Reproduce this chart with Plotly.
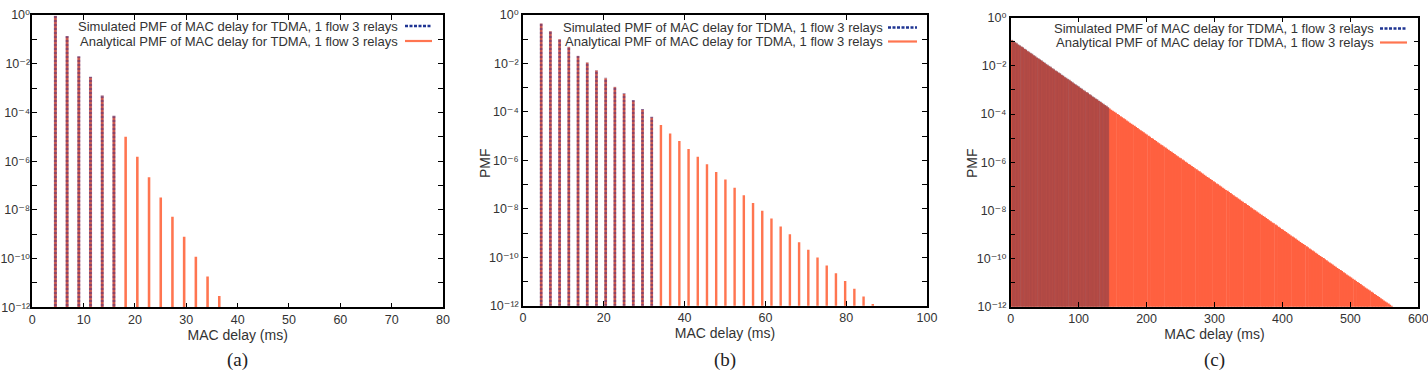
import plotly.graph_objects as go

# ---------------- data ----------------
# PMF values are stored as log10(PMF); bars are spaced one TDMA slot apart.
SLOT_MS = 2.28

# (a)
A_FIRST_MS = 4.5
A_SIM_LOG = [-0.03, -0.86, -1.69, -2.53, -3.28, -4.13]
A_ANA_LOG = [-0.04, -0.88, -1.71, -2.56, -3.35, -4.17, -5.00, -5.82, -6.66,
             -7.49, -8.28, -9.10, -9.92, -10.74, -11.54]

# (b)
B_FIRST_MS = 4.5
B_SIM_LOG = [-0.34, -0.66, -0.99, -1.31, -1.68, -1.95, -2.27, -2.59, -2.96,
             -3.23, -3.51, -3.88, -4.20]
B_ANA_LOG = [-0.36, -0.68, -1.01, -1.33, -1.70, -1.97, -2.30, -2.62, -2.98,
             -3.26, -3.54, -3.91, -4.23, -4.54, -4.89, -5.20, -5.53, -5.85,
             -6.16, -6.48, -6.79, -7.13, -7.44, -7.76, -8.08, -8.40, -8.73,
             -9.05, -9.38, -9.69, -10.01, -10.34, -10.66, -10.98, -11.30,
             -11.62, -11.93]

# (c)  (impulses too dense to separate; values follow the visible edge)
C_FIRST_MS = 2.3
C_SIM_LOG = [-0.92, -0.96, -1.01, -1.04, -1.10, -1.13, -1.19, -1.22, -1.28, -1.31,
             -1.37, -1.40, -1.46, -1.49, -1.55, -1.58, -1.64, -1.67, -1.73, -1.76,
             -1.82, -1.85, -1.91, -1.94, -2.00, -2.03, -2.09, -2.12, -2.18, -2.21,
             -2.27, -2.30, -2.36, -2.39, -2.45, -2.48, -2.54, -2.57, -2.63, -2.66,
             -2.72, -2.75, -2.81, -2.84, -2.90, -2.93, -2.99, -3.02, -3.08, -3.11,
             -3.17, -3.20, -3.26, -3.29, -3.35, -3.38, -3.44, -3.47, -3.53, -3.56,
             -3.62, -3.65, -3.71]
C_ANA_LOG = [-0.94, -0.98, -1.03, -1.07, -1.12, -1.16, -1.21, -1.25, -1.30, -1.34,
             -1.39, -1.43, -1.48, -1.52, -1.57, -1.61, -1.66, -1.70, -1.75, -1.79,
             -1.84, -1.88, -1.93, -1.97, -2.02, -2.06, -2.11, -2.15, -2.20, -2.24,
             -2.29, -2.33, -2.38, -2.42, -2.47, -2.51, -2.56, -2.60, -2.65, -2.69,
             -2.74, -2.78, -2.83, -2.87, -2.92, -2.96, -3.01, -3.05, -3.10, -3.14,
             -3.19, -3.23, -3.28, -3.32, -3.37, -3.41, -3.46, -3.50, -3.55, -3.59,
             -3.64, -3.68, -3.73, -3.77, -3.82, -3.86, -3.91, -3.95, -4.00, -4.04,
             -4.09, -4.13, -4.18, -4.22, -4.27, -4.31, -4.36, -4.40, -4.45, -4.49,
             -4.54, -4.58, -4.63, -4.67, -4.72, -4.76, -4.81, -4.85, -4.90, -4.94,
             -4.99, -5.03, -5.08, -5.12, -5.17, -5.21, -5.26, -5.30, -5.35, -5.39,
             -5.44, -5.48, -5.53, -5.57, -5.62, -5.66, -5.71, -5.75, -5.80, -5.84,
             -5.89, -5.93, -5.98, -6.02, -6.07, -6.11, -6.16, -6.20, -6.25, -6.29,
             -6.34, -6.38, -6.43, -6.47, -6.52, -6.56, -6.61, -6.65, -6.70, -6.74,
             -6.79, -6.83, -6.88, -6.92, -6.97, -7.01, -7.06, -7.10, -7.15, -7.19,
             -7.24, -7.28, -7.33, -7.37, -7.42, -7.46, -7.51, -7.55, -7.60, -7.64,
             -7.69, -7.73, -7.78, -7.82, -7.87, -7.91, -7.96, -8.00, -8.05, -8.09,
             -8.14, -8.18, -8.23, -8.27, -8.32, -8.36, -8.41, -8.45, -8.50, -8.54,
             -8.59, -8.63, -8.68, -8.72, -8.77, -8.81, -8.86, -8.90, -8.95, -8.99,
             -9.04, -9.08, -9.13, -9.17, -9.22, -9.26, -9.31, -9.35, -9.40, -9.44,
             -9.49, -9.53, -9.58, -9.62, -9.67, -9.71, -9.76, -9.80, -9.85, -9.89,
             -9.94, -9.98, -10.03, -10.07, -10.12, -10.16, -10.21, -10.25, -10.30, -10.34,
             -10.39, -10.43, -10.48, -10.52, -10.57, -10.61, -10.66, -10.70, -10.75, -10.79,
             -10.84, -10.88, -10.93, -10.97, -11.02, -11.06, -11.11, -11.15, -11.20, -11.24,
             -11.29, -11.33, -11.38, -11.42, -11.47, -11.51, -11.56, -11.60, -11.65, -11.69,
             -11.74, -11.78, -11.83, -11.87, -11.92, -11.96]

SIM_NAME = "Simulated PMF of MAC delay for TDMA, 1 flow 3 relays"
ANA_NAME = "Analytical PMF of MAC delay for TDMA, 1 flow 3 relays"
X_TITLE = "MAC delay (ms)"
Y_TITLE = "PMF"
CAPTIONS = ["(a)", "(b)", "(c)"]
X_RANGES = [[0, 80], [0, 100], [0, 600]]
X_DTICKS = [10, 20, 100]
Y_MAJOR_EXP = [0, -2, -4, -6, -8, -10, -12]
Y_TICK_LABELS = ["10⁰", "10⁻²", "10⁻⁴", "10⁻⁶", "10⁻⁸", "10⁻¹⁰", "10⁻¹²"]
Y_MINOR_EXP = [-1, -3, -5, -7, -9, -11]

# ---------------- styling ----------------
W, H = 1428, 374
SANS = "Liberation Sans, Arial, Helvetica, DejaVu Sans, sans-serif"
SERIF = "Liberation Serif, Times New Roman, serif"
ORANGE = "#ff7550"
ORANGE_DENSE = "#ff6040"
BLUE = "#1f3593"


def px_x(p):
    return p / W


def px_y(p):
    return 1 - p / H


# panel frames in pixels: (left, right, top, bottom)
FRAMES = [(32.3, 443.0, 15.0, 307.3), (523.0, 927.0, 15.0, 305.7), (1010.7, 1418.3, 17.7, 306.7)]
# legend geometry per panel: text right edge, sample left, sample right, row1 y, row2 y
LEG_ROWS = [(400, 405, 432, 26, 41), (885, 888, 917, 27.5, 41.5), (1376, 1380, 1407, 28.5, 42.5)]
Y_LABEL_STANDOFF = [-2, 0, 0]


def logs_to_pmf(vals):
    return [10 ** v for v in vals]


fig = go.Figure()

panels = [
    (A_FIRST_MS, A_SIM_LOG, A_ANA_LOG, 0.5, 0.6),
    (B_FIRST_MS, B_SIM_LOG, B_ANA_LOG, 0.6, 0.7),
    (C_FIRST_MS, C_SIM_LOG, C_ANA_LOG, 2.5, 2.5),
]

for i, (x0, sim, ana, wa, ws) in enumerate(panels):
    xa = "x" if i == 0 else f"x{i+1}"
    ya = "y" if i == 0 else f"y{i+1}"
    dense = i == 2
    fig.add_trace(go.Bar(
        x0=x0, dx=SLOT_MS, y=logs_to_pmf(ana), width=wa,
        marker=dict(color=ORANGE_DENSE if dense else ORANGE, line=dict(width=0)),
        xaxis=xa, yaxis=ya, showlegend=False, name=ANA_NAME, hoverinfo="skip"))
    if dense:
        sim_marker = dict(color="rgba(50,40,80,0.36)", line=dict(width=0))
    else:
        sim_marker = dict(color="rgba(0,0,0,0)", line=dict(width=0),
                          pattern=dict(shape="-", fgcolor="rgba(70,45,125,0.6)",
                                       bgcolor="rgba(125,45,80,0.4)",
                                       size=4, solidity=0.4, fillmode="replace"))
    fig.add_trace(go.Bar(
        x0=x0, dx=SLOT_MS, y=logs_to_pmf(sim), width=ws, marker=sim_marker,
        xaxis=xa, yaxis=ya, showlegend=False, name=SIM_NAME, hoverinfo="skip"))

layout = dict(
    width=W, height=H, margin=dict(l=0, r=0, t=0, b=0, autoexpand=False),
    paper_bgcolor="white", plot_bgcolor="white",
    barmode="overlay", showlegend=False,
    font=dict(family=SANS, size=12, color="#222"),
)

tickvals = [10.0 ** e for e in Y_MAJOR_EXP]
minorvals = [10.0 ** e for e in Y_MINOR_EXP]

annotations = []
shapes = []
for i, (l, r, t, b) in enumerate(FRAMES):
    sfx = "" if i == 0 else str(i + 1)
    layout["xaxis" + sfx] = dict(
        domain=[px_x(l), px_x(r)], range=X_RANGES[i], dtick=X_DTICKS[i], tick0=0,
        anchor="y" + sfx, showline=True, linecolor="black", linewidth=1.5, mirror="ticks",
        ticks="inside", ticklen=5, tickwidth=1, tickcolor="black", ticklabeloverflow="allow",
        showgrid=False, zeroline=False, tickfont=dict(size=12.5, color="#333"),
        title=dict(text=X_TITLE, font=dict(size=14, color="#333"), standoff=2),
    )
    layout["yaxis" + sfx] = dict(
        domain=[px_y(b), px_y(t)], type="log", range=[-12, 0],
        tickmode="array", tickvals=tickvals, ticktext=Y_TICK_LABELS, ticklabeloverflow="allow",
        ticklabelstandoff=Y_LABEL_STANDOFF[i],
        minor=dict(tickmode="array", tickvals=minorvals, ticks="inside", ticklen=5,
                   tickwidth=1, tickcolor="black", showgrid=False),
        anchor="x" + sfx, showline=True, linecolor="black", linewidth=1.5, mirror="ticks",
        ticks="inside", ticklen=5, tickwidth=1, tickcolor="black",
        showgrid=False, zeroline=False, tickfont=dict(size=12.5, color="#333"),
    )
    # captions
    annotations.append(dict(text=CAPTIONS[i], xref="paper", yref="paper",
                            x=px_x((l + r) / 2), y=px_y(360), xanchor="center", yanchor="middle",
                            showarrow=False, font=dict(family=SERIF, size=19, color="#222")))
    # key: text right-aligned, sample line to its right (gnuplot style)
    txt_r, s_l, s_r, r1, r2 = LEG_ROWS[i]
    for name, row, lc, lw, dash in ((SIM_NAME, r1, BLUE, 2.5, "3px,1.5px"),
                                    (ANA_NAME, r2, ORANGE, 2.2, "solid")):
        annotations.append(dict(text=name, xref="paper", yref="paper",
                                x=px_x(txt_r), y=px_y(row), xanchor="right", yanchor="middle",
                                showarrow=False, font=dict(size=13, color="#333")))
        shapes.append(dict(type="line", xref="paper", yref="paper",
                           x0=px_x(s_l), x1=px_x(s_r), y0=px_y(row), y1=px_y(row),
                           line=dict(color=lc, width=lw, dash=dash)))

# y-axis titles for (b) and (c)
for xc in (485, 972):
    annotations.append(dict(text=Y_TITLE, xref="paper", yref="paper", x=px_x(xc), y=px_y(163),
                            xanchor="center", yanchor="middle", textangle=-90, showarrow=False,
                            font=dict(size=14, color="#333")))

layout["annotations"] = annotations
layout["shapes"] = shapes
fig.update_layout(**layout)
fig.write_html("out.html")
